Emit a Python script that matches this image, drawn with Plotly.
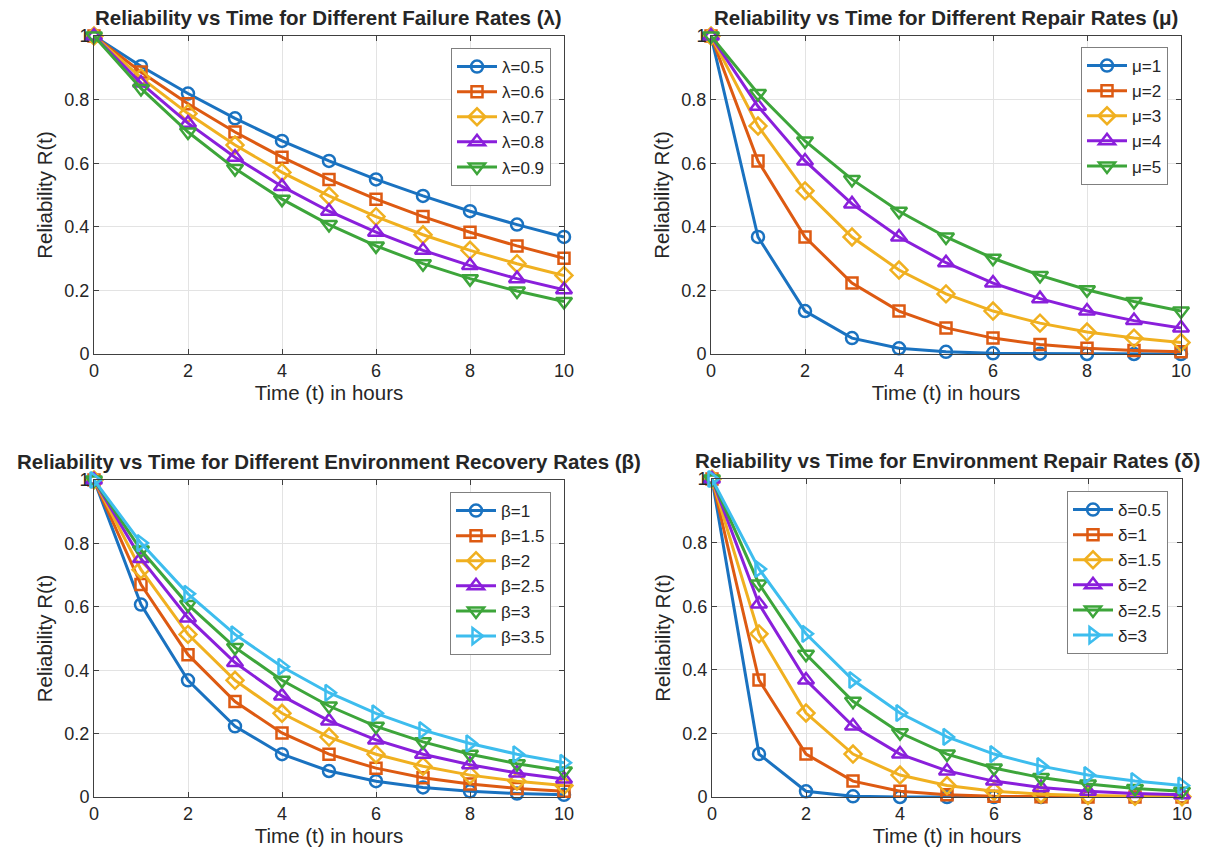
import plotly.graph_objects as go

t = [0, 1, 2, 3, 4, 5, 6, 7, 8, 9, 10]

lam_labels = ["λ=0.5", "λ=0.6", "λ=0.7", "λ=0.8", "λ=0.9"]
lam_vals = [
    [1, 0.905, 0.819, 0.741, 0.670, 0.607, 0.549, 0.497, 0.449, 0.407, 0.368],
    [1, 0.887, 0.787, 0.698, 0.619, 0.549, 0.487, 0.432, 0.383, 0.340, 0.301],
    [1, 0.869, 0.756, 0.657, 0.571, 0.497, 0.432, 0.375, 0.326, 0.284, 0.247],
    [1, 0.852, 0.726, 0.619, 0.527, 0.449, 0.383, 0.326, 0.278, 0.237, 0.202],
    [1, 0.835, 0.698, 0.583, 0.487, 0.407, 0.340, 0.284, 0.237, 0.198, 0.165],
]

mu_labels = ["μ=1", "μ=2", "μ=3", "μ=4", "μ=5"]
mu_vals = [
    [1, 0.368, 0.135, 0.050, 0.018, 0.007, 0.002, 0.001, 0.000, 0.000, 0.000],
    [1, 0.607, 0.368, 0.223, 0.135, 0.082, 0.050, 0.030, 0.018, 0.011, 0.007],
    [1, 0.717, 0.513, 0.368, 0.264, 0.189, 0.135, 0.097, 0.069, 0.050, 0.036],
    [1, 0.779, 0.607, 0.472, 0.368, 0.287, 0.223, 0.174, 0.135, 0.105, 0.082],
    [1, 0.819, 0.670, 0.549, 0.449, 0.368, 0.301, 0.247, 0.202, 0.165, 0.135],
]

beta_labels = ["β=1", "β=1.5", "β=2", "β=2.5", "β=3", "β=3.5"]
beta_vals = [
    [1, 0.607, 0.368, 0.223, 0.135, 0.082, 0.050, 0.030, 0.018, 0.011, 0.007],
    [1, 0.670, 0.449, 0.301, 0.202, 0.135, 0.091, 0.061, 0.041, 0.027, 0.018],
    [1, 0.717, 0.513, 0.368, 0.264, 0.189, 0.135, 0.097, 0.069, 0.050, 0.036],
    [1, 0.752, 0.565, 0.424, 0.319, 0.240, 0.180, 0.135, 0.102, 0.076, 0.057],
    [1, 0.779, 0.607, 0.472, 0.368, 0.287, 0.223, 0.174, 0.135, 0.105, 0.082],
    [1, 0.801, 0.641, 0.513, 0.411, 0.329, 0.264, 0.211, 0.169, 0.135, 0.108],
]

delta_labels = ["δ=0.5", "δ=1", "δ=1.5", "δ=2", "δ=2.5", "δ=3"]
delta_vals = [
    [1, 0.135, 0.018, 0.002, 0.000, 0.000, 0.000, 0.000, 0.000, 0.000, 0.000],
    [1, 0.368, 0.135, 0.050, 0.018, 0.007, 0.002, 0.001, 0.000, 0.000, 0.000],
    [1, 0.513, 0.264, 0.135, 0.069, 0.036, 0.018, 0.009, 0.005, 0.002, 0.001],
    [1, 0.607, 0.368, 0.223, 0.135, 0.082, 0.050, 0.030, 0.018, 0.011, 0.007],
    [1, 0.670, 0.449, 0.301, 0.202, 0.135, 0.091, 0.061, 0.041, 0.027, 0.018],
    [1, 0.717, 0.513, 0.368, 0.264, 0.189, 0.135, 0.097, 0.069, 0.050, 0.036],
]

titles = [
    "Reliability vs Time for Different Failure Rates (λ)",
    "Reliability vs Time for Different Repair Rates (μ)",
    "Reliability vs Time for Different Environment Recovery Rates (β)",
    "Reliability vs Time for Environment Repair Rates (δ)",
]

colors = ["#1A72C0", "#DD5A12", "#F0B020", "#8A1FDB", "#3DA53A", "#3DBDEE"]
symbols = ["circle-open", "square-open", "diamond-open", "triangle-up-open",
           "triangle-down-open", "triangle-right-open"]
msizes = [12, 11, 13, 14, 14, 14]

W, H = 1216, 852
boxes = [  # left, right, top, bottom in pixels
    (94, 564, 36, 354),
    (711, 1181, 36, 354),
    (94, 564, 480, 797),
    (712, 1182, 479, 797),
]
legend_pos = [(551, 48), (1168, 47), (551, 492), (1168, 491)]

FONT = "Liberation Sans, Arial, Helvetica, sans-serif"
TXT = "#262626"

fig = go.Figure()
panels = [(lam_labels, lam_vals), (mu_labels, mu_vals),
          (beta_labels, beta_vals), (delta_labels, delta_vals)]

layout = dict(
    width=W, height=H,
    margin=dict(l=0, r=0, t=0, b=0, autoexpand=False),
    paper_bgcolor="white", plot_bgcolor="white",
    font=dict(family=FONT, color=TXT, size=15),
    annotations=[],
)

for i, (labels, vals) in enumerate(panels):
    n = i + 1
    xa = "x" if n == 1 else f"x{n}"
    ya = "y" if n == 1 else f"y{n}"
    lg = "legend" if n == 1 else f"legend{n}"
    for j, (lab, v) in enumerate(zip(labels, vals)):
        fig.add_trace(go.Scatter(
            x=t, y=v, name=lab, mode="lines+markers",
            xaxis=xa, yaxis=ya, legend=lg,
            line=dict(color=colors[j], width=3),
            marker=dict(symbol=symbols[j], size=msizes[j], color=colors[j],
                        line=dict(color=colors[j], width=2.5)),
            cliponaxis=False,
        ))
    l, r, tp, bt = boxes[i]
    xdom = [l / W, r / W]
    ydom = [1 - bt / H, 1 - tp / H]
    axis_common = dict(
        showline=True, linecolor="#404040", linewidth=1, mirror="ticks",
        ticks="inside", ticklen=5, tickcolor="#404040",
        showgrid=True, gridcolor="#e3e3e3", gridwidth=1, automargin=False,
        zeroline=False, tickfont=dict(size=18, color=TXT, family=FONT),
    )
    layout["xaxis" if n == 1 else f"xaxis{n}"] = dict(
        axis_common, domain=xdom, range=[0, 10], tickvals=[0, 2, 4, 6, 8, 10],
        anchor=ya,
        title=dict(text="Time (t) in hours", font=dict(size=20.5, color=TXT), standoff=3),
    )
    layout["yaxis" if n == 1 else f"yaxis{n}"] = dict(
        axis_common, domain=ydom, range=[0, 1],
        tickvals=[0, 0.2, 0.4, 0.6, 0.8, 1], ticktext=["0", "0.2", "0.4", "0.6", "0.8", "1"],
        anchor=xa,
        title=dict(text="Reliability R(t)", font=dict(size=20.5, color=TXT), standoff=6),
    )
    lx, ly = legend_pos[i]
    layout[lg] = dict(
        x=lx / W, y=1 - ly / H, xanchor="right", yanchor="top",
        xref="paper", yref="paper",
        bgcolor="white", bordercolor="#7f7f7f", borderwidth=1,
        font=dict(size=17, color=TXT, family=FONT),
        tracegroupgap=0, itemwidth=40,
    )
    layout["annotations"].append(dict(
        text=f"<b>{titles[i]}</b>", x=(l + r) / 2 / W, y=1 - tp / H,
        xref="paper", yref="paper", xanchor="center", yanchor="bottom",
        showarrow=False, yshift=5, font=dict(size=20.5, color=TXT, family=FONT),
    ))

fig.update_layout(**layout)
fig.write_html("out.html")
